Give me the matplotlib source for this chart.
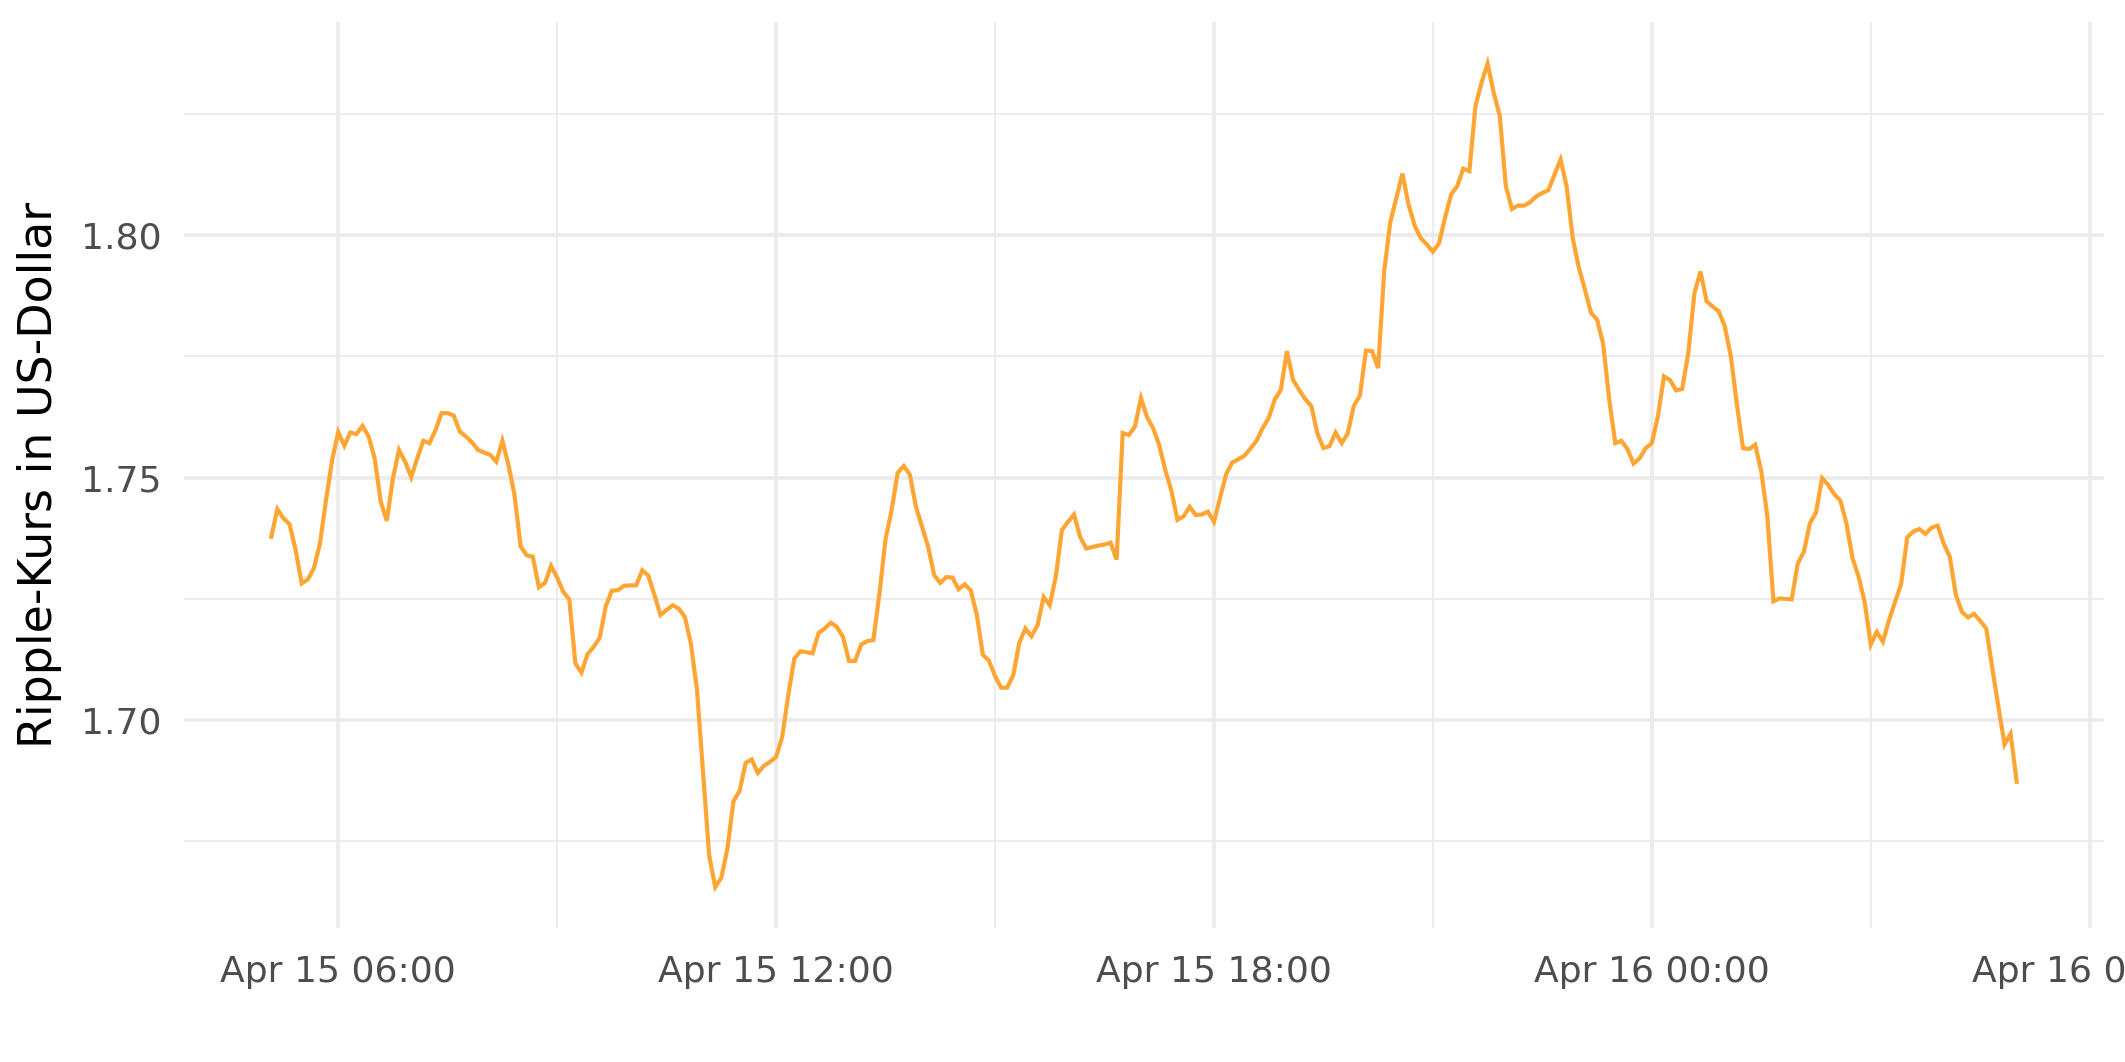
# -*- coding: utf-8 -*-
"""
Ripple price over one day, 5 minute steps.
"""
import numpy as np
import pandas as pd
import matplotlib
matplotlib.use("Agg")
import matplotlib.pyplot as plt
import matplotlib.dates as mdates
from matplotlib.ticker import MultipleLocator, FormatStrFormatter

# Data: XRP in USD, every 5 minutes from Apr 15 05:05 (one row per hour)
start_time = "2021-04-15 05:05"
price = [
    1.7378, 1.7435, 1.7416, 1.7404, 1.7351, 1.7282, 1.7290, 1.7313, 1.7364, 1.7454, 1.7536, 1.7594,
    1.7566, 1.7593, 1.7590, 1.7607, 1.7585, 1.7540, 1.7450, 1.7411, 1.7499, 1.7557, 1.7533, 1.7501,
    1.7540, 1.7576, 1.7571, 1.7598, 1.7633, 1.7633, 1.7628, 1.7595, 1.7585, 1.7573, 1.7557, 1.7552,
    1.7547, 1.7533, 1.7576, 1.7526, 1.7464, 1.7358, 1.7340, 1.7337, 1.7274, 1.7283, 1.7318, 1.7294,
    1.7265, 1.7249, 1.7117, 1.7098, 1.7136, 1.7151, 1.7170, 1.7235, 1.7267, 1.7268, 1.7277, 1.7278,
    1.7278, 1.7309, 1.7298, 1.7258, 1.7217, 1.7227, 1.7237, 1.7230, 1.7213, 1.7158, 1.7062, 1.6890,
    1.6721, 1.6656, 1.6675, 1.6735, 1.6833, 1.6854, 1.6912, 1.6919, 1.6891, 1.6906, 1.6914, 1.6924,
    1.6965, 1.7051, 1.7127, 1.7142, 1.7140, 1.7138, 1.7180, 1.7189, 1.7201, 1.7192, 1.7172, 1.7122,
    1.7122, 1.7156, 1.7163, 1.7165, 1.7261, 1.7373, 1.7433, 1.7510, 1.7524, 1.7506, 1.7440, 1.7399,
    1.7358, 1.7299, 1.7283, 1.7295, 1.7294, 1.7270, 1.7280, 1.7268, 1.7218, 1.7135, 1.7123, 1.7091,
    1.7067, 1.7067, 1.7093, 1.7160, 1.7189, 1.7173, 1.7196, 1.7254, 1.7237, 1.7296, 1.7392, 1.7409,
    1.7424, 1.7378, 1.7354, 1.7357, 1.7360, 1.7362, 1.7366, 1.7331, 1.7592, 1.7588, 1.7605, 1.7664,
    1.7625, 1.7602, 1.7567, 1.7516, 1.7473, 1.7413, 1.7420, 1.7440, 1.7423, 1.7424, 1.7430, 1.7409,
    1.7458, 1.7507, 1.7531, 1.7538, 1.7545, 1.7560, 1.7576, 1.7602, 1.7623, 1.7661, 1.7681, 1.7761,
    1.7702, 1.7681, 1.7662, 1.7648, 1.7592, 1.7561, 1.7565, 1.7593, 1.7571, 1.7591, 1.7648, 1.7669,
    1.7762, 1.7761, 1.7726, 1.7926, 1.8027, 1.8077, 1.8127, 1.8063, 1.8020, 1.7994, 1.7981, 1.7966,
    1.7983, 1.8036, 1.8084, 1.8101, 1.8137, 1.8132, 1.8266, 1.8314, 1.8354, 1.8294, 1.8246, 1.8101,
    1.8054, 1.8061, 1.8061, 1.8068, 1.8080, 1.8087, 1.8093, 1.8125, 1.8156, 1.8100, 1.7994, 1.7933,
    1.7888, 1.7840, 1.7826, 1.7776, 1.7661, 1.7571, 1.7576, 1.7559, 1.7529, 1.7540, 1.7561, 1.7571,
    1.7626, 1.7709, 1.7701, 1.7680, 1.7683, 1.7757, 1.7880, 1.7925, 1.7864, 1.7853, 1.7843, 1.7812,
    1.7750, 1.7650, 1.7561, 1.7559, 1.7568, 1.7513, 1.7420, 1.7245, 1.7251, 1.7250, 1.7249, 1.7323,
    1.7347, 1.7406, 1.7428, 1.7499, 1.7485, 1.7466, 1.7453, 1.7406, 1.7334, 1.7296, 1.7244, 1.7156,
    1.7182, 1.7162, 1.7206, 1.7244, 1.7281, 1.7377, 1.7389, 1.7394, 1.7384, 1.7397, 1.7401, 1.7364,
    1.7337, 1.7258, 1.7223, 1.7212, 1.7219, 1.7205, 1.7189, 1.7106, 1.7027, 1.6950, 1.6972, 1.6873,
]
y_title = "Ripple-Kurs in US-Dollar"

line_color = "#FFA533"
grid_color = "#EBEBEB"
text_color = "#4D4D4D"


def main():
    times = pd.date_range(start_time, periods=len(price), freq="5min")
    values = np.array(price)

    fig = plt.figure(figsize=(21.25, 10.62), dpi=100)
    ax = fig.add_axes([0.0866, 0.126, 0.9035, 0.853])
    ax.plot(times, values, color=line_color, lw=3.0, solid_joinstyle="miter", zorder=3)

    ax.xaxis.set_major_locator(mdates.HourLocator(byhour=[0, 6, 12, 18]))
    ax.xaxis.set_minor_locator(mdates.HourLocator(byhour=[3, 9, 15, 21]))
    ax.xaxis.set_major_formatter(mdates.DateFormatter("%b %d %H:%M"))
    ax.yaxis.set_major_locator(MultipleLocator(0.05))
    ax.yaxis.set_minor_locator(MultipleLocator(0.025))
    ax.yaxis.set_major_formatter(FormatStrFormatter("%.2f"))

    ax.grid(which="major", color=grid_color, lw=2.6, zorder=0)
    ax.grid(which="minor", color=grid_color, lw=1.3, zorder=0)
    ax.set_axisbelow(True)
    for s in ax.spines.values():
        s.set_visible(False)
    ax.tick_params(which="both", length=0)
    ax.tick_params(axis="x", labelsize=26, labelcolor=text_color, pad=19)
    ax.tick_params(axis="y", labelsize=26, labelcolor=text_color, pad=16)

    fig.text(40 / 2125, 0.553, y_title, rotation=90, ha="center", va="center",
             fontsize=33, color="black",
             family=["Liberation Sans Narrow", "DejaVu Sans"])

    fig.savefig("out.png", dpi=100, facecolor="white")
    return 0


main()
